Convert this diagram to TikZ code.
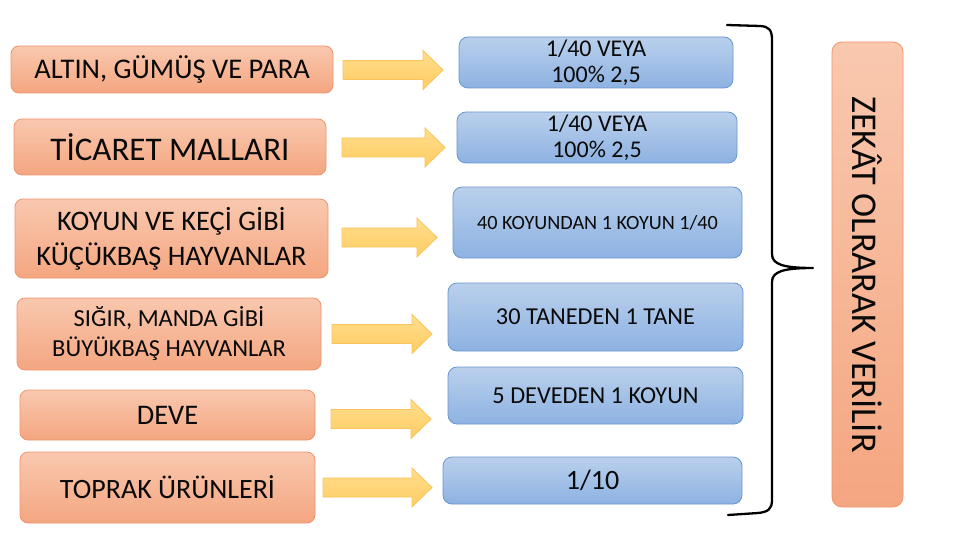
\documentclass[tikz,border=0pt]{standalone}
\usepackage{fontspec}
\setmainfont{Carlito}
\usetikzlibrary{positioning}
\definecolor{otop}{RGB}{249,200,175}
\definecolor{obot}{RGB}{244,166,128}
\definecolor{oline}{RGB}{238,150,110}
\definecolor{btop}{RGB}{186,208,236}
\definecolor{bbot}{RGB}{141,178,226}
\definecolor{bline}{RGB}{105,150,205}
\definecolor{ytop}{RGB}{255,222,140}
\definecolor{ybot}{RGB}{255,204,100}
\definecolor{yline}{RGB}{250,196,90}
\definecolor{txt}{RGB}{10,10,10}
\tikzset{
  obox/.style={draw=oline, line width=0.8pt, rounded corners=8pt, top color=otop, bottom color=obot,
    text=txt, align=center, inner sep=0pt},
  bbox/.style={draw=bline, line width=0.8pt, rounded corners=9pt, top color=btop, bottom color=bbot,
    text=txt, align=center, inner sep=0pt},
  yarr/.style={draw=yline, line width=0.8pt, top color=ytop, bottom color=ybot, line join=miter},
  brace/.style={draw=black, line width=2.3pt, line cap=round, line join=round}
}
% #1 = x start, #2 = x end, #3 = y centre (positive down)
\newcommand\myarrow[3]{%
  \path[yarr] (#1,-#3+9.5) -- (#2-20,-#3+9.5) -- (#2-20,-#3+19.5) -- (#2,-#3)
    -- (#2-20,-#3-19.5) -- (#2-20,-#3-9.5) -- (#1,-#3-9.5) -- cycle;}
\begin{document}
\begin{tikzpicture}[x=1pt,y=1pt]
\useasboundingbox (0,0) rectangle (960,-540);
\fill[white] (0,0) rectangle (960,-540);

% left boxes
\node[obox, minimum width=322pt, minimum height=47pt, font=\fontsize{28.5}{33}\selectfont] (a1) at (172,-69.5) {ALTIN, GÜMÜŞ VE PARA};
\node[obox, minimum width=312pt, minimum height=56pt, font=\fontsize{33}{38}\selectfont] (a2) at (170,-147) {TİCARET MALLARI};
\node[obox, minimum width=313pt, minimum height=79pt, font=\fontsize{28.3}{35}\selectfont] (a3) at (171.5,-238.5) {KOYUN VE KEÇİ GİBİ\\KÜÇÜKBAŞ HAYVANLAR};
\node[obox, minimum width=304pt, minimum height=72pt, font=\fontsize{24.5}{30}\selectfont] (a4) at (169,-334) {SIĞIR, MANDA GİBİ\\BÜYÜKBAŞ HAYVANLAR};
\node[obox, minimum width=295pt, minimum height=50pt, font=\fontsize{28.4}{33}\selectfont] (a5) at (167.5,-415) {DEVE};
\node[obox, minimum width=295pt, minimum height=71pt, font=\fontsize{28}{33}\selectfont] (a6) at (167.5,-487.5) {TOPRAK ÜRÜNLERİ};

% right (blue) boxes
\node[bbox, minimum width=274pt, minimum height=51pt, font=\fontsize{24}{25.5}\selectfont] (b1) at (596,-62.5) {1/40 VEYA\\100\% 2,5};
\node[bbox, minimum width=280pt, minimum height=51pt, font=\fontsize{24}{25.5}\selectfont] (b2) at (597,-137.5) {1/40 VEYA\\100\% 2,5};
\node[bbox, minimum width=289pt, minimum height=71pt, font=\fontsize{20.2}{24}\selectfont] (b3) at (597.5,-222.5) {40 KOYUNDAN 1 KOYUN 1/40};
\node[bbox, minimum width=295pt, minimum height=68pt, font=\fontsize{24.3}{28}\selectfont] (b4) at (595.5,-317) {30 TANEDEN 1 TANE};
\node[bbox, minimum width=295pt, minimum height=57pt, font=\fontsize{24.3}{28}\selectfont] (b5) at (595.5,-395.5) {5 DEVEDEN 1 KOYUN};
\node[bbox, minimum width=299pt, minimum height=47pt, font=\fontsize{28}{32}\selectfont] (b6) at (592.5,-480.5) {1/10};

% block arrows
\myarrow{343}{443}{70}
\myarrow{342}{445}{147.5}
\myarrow{342}{437}{237.5}
\myarrow{332}{432}{334}
\myarrow{331}{431}{419}
\myarrow{323}{432}{487.5}

% brace
\coordinate (bt) at (727,-25);
\coordinate (bm) at (813,-268);
\coordinate (bb) at (728,-515);
\draw[brace] (bt) -- (760,-26) .. controls (769,-26.5) and (772,-30) .. (772,-40)
  -- (772,-254) .. controls (772,-264) and (782,-268) .. (bm)
  .. controls (782,-268) and (772,-272) .. (772,-282)
  -- (772,-500) .. controls (772,-509) and (768,-512) .. (758,-513) -- (bb);

% result box
\node[obox, rounded corners=10pt, minimum width=71pt, minimum height=465pt] (z) at (867.5,-274.5) {};
\node[rotate=-90, text=txt, font=\fontsize{36.3}{40}\selectfont] (zt) at (z.center) {ZEKÂT OLRARAK VERİLİR};
\end{tikzpicture}
\end{document}
